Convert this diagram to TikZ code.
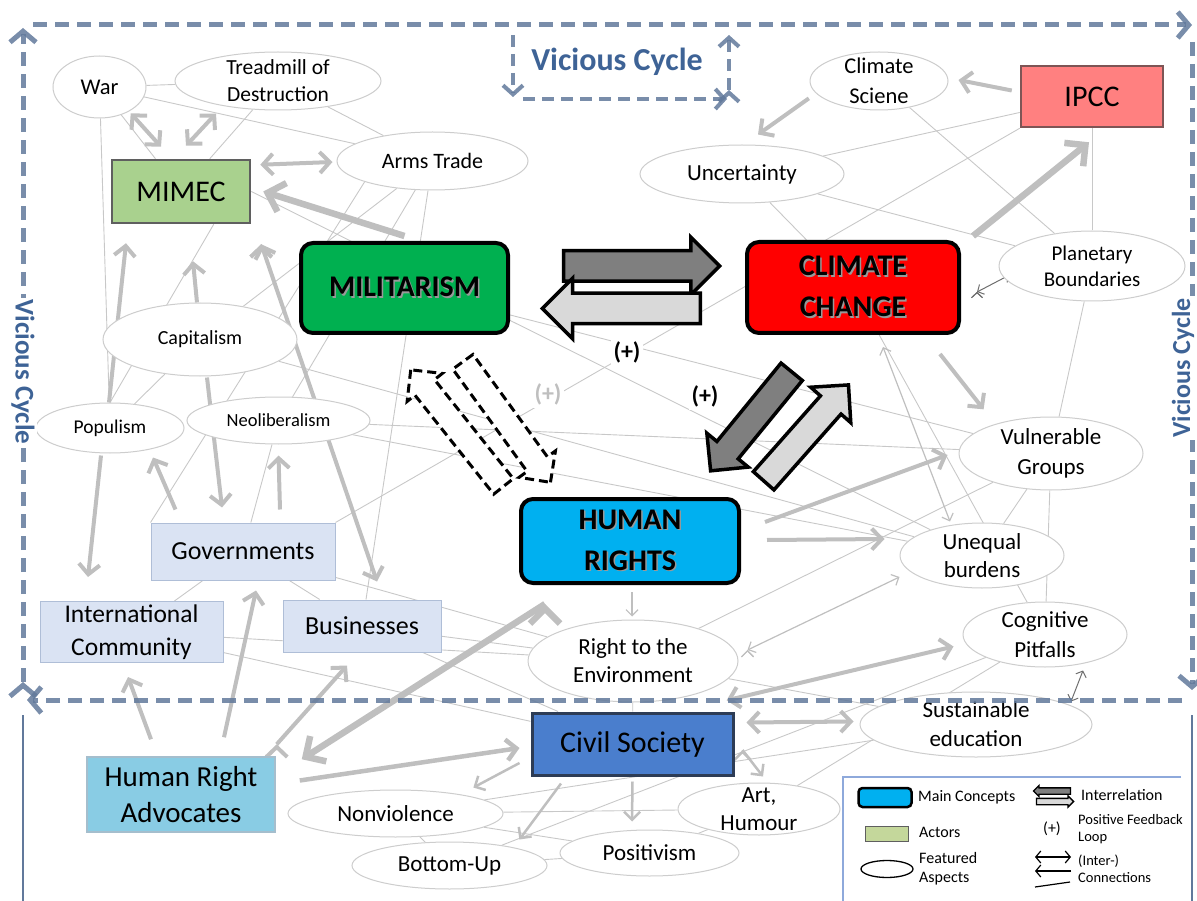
\documentclass[tikz,border=0pt]{standalone}
\usepackage{fontspec}
\setmainfont{Carlito}
\usepackage{tikz}
\usetikzlibrary{shapes,arrows,arrows.meta,calc}
\definecolor{milgreen}{RGB}{0,176,80}
\definecolor{ccred}{RGB}{255,0,0}
\definecolor{hrblue}{RGB}{0,176,240}
\definecolor{mimecgreen}{RGB}{169,209,142}
\definecolor{ipccred}{RGB}{255,128,128}
\definecolor{ipccedge}{RGB}{125,85,85}
\definecolor{actdark}{RGB}{95,95,95}
\definecolor{actblue}{RGB}{218,227,243}
\definecolor{actedge}{RGB}{175,190,215}
\definecolor{advblue}{RGB}{137,204,228}
\definecolor{advedge}{RGB}{165,190,205}
\definecolor{civblue}{RGB}{74,126,205}
\definecolor{civedge}{RGB}{45,60,85}
\definecolor{darkarr}{RGB}{127,127,127}
\definecolor{lightarr}{RGB}{217,217,217}
\definecolor{connline}{RGB}{200,200,200}
\definecolor{arrgrey}{RGB}{191,191,191}
\definecolor{darkline}{RGB}{110,110,110}
\definecolor{elledge}{RGB}{205,205,205}
\definecolor{cyc}{RGB}{97,121,155}
\definecolor{cyctext}{RGB}{62,99,150}
\definecolor{legline}{RGB}{142,169,219}
\definecolor{legactor}{RGB}{196,215,155}
\pgfdeclarelayer{background}
\pgfsetlayers{background,main}
\newcommand{\fsz}[2]{\fontsize{#1}{#2}\selectfont}
\newcommand{\shad}[1]{\makebox[0pt][l]{\hspace{1.5pt}\raisebox{-1.5pt}{\textcolor{black!40}{#1}}}#1}

\begin{document}
\begin{tikzpicture}[x=1pt,y=-1pt,
    mainc/.style={rectangle, rounded corners=12pt, draw=black, line width=4pt, font=\bfseries\fsz{30}{41}, align=center, inner sep=0pt},
    actor/.style={rectangle, draw=actedge, line width=1pt, fill=actblue, font=\fsz{26}{33}, align=center, inner sep=0pt},
    feat/.style={ellipse, draw=elledge, line width=1pt, fill=white, inner sep=0pt},
    ftext/.style={font=\fsz{23}{29}, align=center, inner sep=0pt},
    conn/.style={draw=connline, line width=0.9pt},
    bigarr/.style={draw=arrgrey, line width=6.5pt, -{Straight Barb[length=15pt,width=30pt]}},
    ga/.style={draw=arrgrey, line width=4pt, -{Straight Barb[length=10pt,width=21pt]}},
    gda/.style={draw=arrgrey, line width=4pt, {Straight Barb[length=10pt,width=21pt]}-{Straight Barb[length=10pt,width=21pt]}},
    sa/.style={draw=arrgrey, line width=2.5pt, -{Straight Barb[length=8pt,width=16pt]}},
    ta/.style={draw=arrgrey, line width=1.2pt, {Straight Barb[length=6pt,width=12pt]}-{Straight Barb[length=6pt,width=12pt]}},
    tda/.style={draw=darkline, line width=1pt, {Straight Barb[length=5pt,width=11pt]}-{Straight Barb[length=5pt,width=11pt]}},
    plus/.style={font=\bfseries\fsz{24}{24}, fill=white, inner sep=3pt},
    fatarr/.style={single arrow, draw=black, line width=3.5pt, inner xsep=0pt, single arrow tip angle=90},
    dasharr/.style={single arrow, draw=black, fill=white, line width=3pt, dash pattern=on 9pt off 5pt, inner xsep=0pt, inner ysep=11pt, single arrow tip angle=90, minimum height=149pt, single arrow head extend=10pt},
    vloop/.style={draw=cyc, draw opacity=0.85, line width=5pt, dash pattern=on 14pt off 8pt, -{Straight Barb[length=11pt,width=26pt]}},
    vtext/.style={font=\bfseries\fsz{27}{27}, text=cyctext, fill=white, inner sep=2pt},
    legtext/.style={font=\fsz{16}{19}, align=left, anchor=west, inner sep=0pt},
    legarr/.style={draw=black, line width=1.2pt}]
\useasboundingbox (0,0) rectangle (1197,901);

\node[mainc, fill=milgreen, minimum width=207pt, minimum height=90pt] (mil) at (404.5,288) {\shad{MILITARISM}};
\node[mainc, fill=ccred, minimum width=212pt, minimum height=91pt] (cc) at (853,287.5) {\shad{CLIMATE}\\\shad{CHANGE}};
\node[mainc, fill=hrblue, minimum width=218pt, minimum height=84pt] (hr) at (630,541) {\shad{HUMAN}\\\shad{RIGHTS}};

\node[actor, fill=mimecgreen, draw=actdark, line width=2.5pt, font=\fsz{30}{34}, minimum width=138pt, minimum height=63pt] (mimec) at (181,191.5) {MIMEC};
\node[actor, fill=ipccred, draw=ipccedge, line width=2.5pt, font=\fsz{30}{34}, minimum width=142pt, minimum height=61pt] (ipcc) at (1092,96.5) {IPCC};
\node[actor, minimum width=184pt, minimum height=57pt] (gov) at (243,551.5) {Governments};
\node[actor, font=\fsz{25.5}{33}, minimum width=183pt, minimum height=61pt] (intc) at (131.5,632) {International\\Community};
\node[actor, minimum width=158pt, minimum height=52pt] (bus) at (362,626) {Businesses};
\node[actor, fill=advblue, draw=advedge, line width=1.5pt, font=\fsz{29}{36}, minimum width=188pt, minimum height=75pt] (adv) at (181,794.5) {Human Right\\Advocates};
\node[actor, fill=civblue, draw=civedge, line width=3pt, font=\fsz{30}{34}, minimum width=201pt, minimum height=62pt] (civ) at (632.5,744) {Civil Society};

\node[feat, minimum width=93pt, minimum height=62pt, label={[ftext, font=\fsz{22.5}{27}]center:War}] (war) at (99.5,87) {};
\node[feat, minimum width=206pt, minimum height=58pt, label={[ftext, font=\fsz{21.5}{27}]center:Treadmill of\\Destruction}] (tread) at (278,81) {};
\node[feat, minimum width=191pt, minimum height=58pt, label={[ftext, font=\fsz{22}{27}]center:Arms Trade}] (arms) at (432.5,161) {};
\node[feat, minimum width=138pt, minimum height=58pt, label={[ftext, font=\fsz{22.5}{30}]center:Climate\\Sciene}] (clsci) at (879,81) {};
\node[feat, minimum width=204pt, minimum height=58pt, label={[ftext]center:Uncertainty}] (unc) at (742,174) {};
\node[feat, minimum width=186pt, minimum height=70pt, label={[ftext, font=\fsz{21}{26}]center:Planetary\\Boundaries}] (plan) at (1092,266) {};
\node[feat, minimum width=194pt, minimum height=73pt, label={[ftext, font=\fsz{20}{24}]center:Capitalism}] (cap) at (200,339.5) {};
\node[feat, minimum width=148pt, minimum height=50pt, label={[ftext, font=\fsz{19.5}{24}]center:Populism}] (pop) at (110,428) {};
\node[feat, minimum width=183pt, minimum height=47pt, label={[ftext, font=\fsz{18.5}{24}]center:Neoliberalism}] (neo) at (278.5,420.5) {};
\node[feat, minimum width=184pt, minimum height=73pt, label={[ftext, font=\fsz{23}{30}]center:Vulnerable\\Groups}] (vul) at (1051,453.5) {};
\node[feat, minimum width=164pt, minimum height=65pt, label={[ftext, font=\fsz{23}{28}]center:Unequal\\burdens}] (uneq) at (982,555.5) {};
\node[feat, minimum width=164pt, minimum height=65pt, label={[ftext, font=\fsz{23}{30}]center:Cognitive\\Pitfalls}] (cog) at (1045,634.5) {};
\node[feat, minimum width=210pt, minimum height=82pt, label={[ftext, font=\fsz{23}{28}]center:Right to the\\Environment}] (env) at (633,661) {};
\node[feat, minimum width=232pt, minimum height=65pt, label={[ftext]center:Sustainable\\education}] (sus) at (976,724.5) {};
\node[feat, minimum width=215pt, minimum height=47pt, label={[ftext]center:Nonviolence}] (nonv) at (395.5,813.5) {};
\node[feat, minimum width=195pt, minimum height=47pt, label={[ftext]center:Bottom-Up}] (botup) at (449.5,865.5) {};
\node[feat, minimum width=179pt, minimum height=46pt, label={[ftext]center:Positivism}] (posi) at (649.5,853) {};
\node[feat, minimum width=162pt, minimum height=52pt, label={[ftext, font=\fsz{23}{28}]center:{Art,\\Humour}}] (art) at (759,809) {};

\begin{pgfonlayer}{background}
\path[conn]
  (war) edge (tread) (war) edge (arms) (war) edge (mimec) (war) edge (pop)
  (tread) edge (mimec) (tread) edge (arms)
  (arms) edge (cap) (arms) edge (neo) (arms) edge (bus) (arms.south west) edge (gov.north west)
  (mimec.-45) edge (pop.north) (cap) edge (pop) (gov) edge (neo)
  (mimec.east) edge (uneq) (mil) edge (vul) (cap) edge (uneq)
  (neo) edge (vul) (neo) edge (uneq) (gov.north east) edge (ipcc.south west)
  (gov) edge (intc) (gov) edge (bus) (gov) edge (env)
  (intc) edge (env) (intc) edge (civ) (bus) edge (env) (bus) edge (civ)
  (env) edge (civ) (env) edge (vul) (env) edge (sus)
  (clsci) edge (plan) (unc) edge (ipcc) (unc) edge (plan) (unc) edge (cc) (ipcc) edge (plan)
  (plan) edge (vul) (vul) edge (uneq) (vul) edge (cog) (cc) edge (cog)
  (cog) edge (art) (botup) edge (cog) (nonv) edge (sus) (nonv) edge (art)
  (nonv) edge (posi) (botup) edge (posi) (botup) edge (nonv) (posi) edge (art);
\path[bigarr]
  ($(mil.north)+(0,-5)$) edge ($(mimec.east)+(12,0)$)
  ($(cc.north east)+(12,-4)$) edge ($(ipcc.south)+(-3,14)$)
  ($(hr.south west)+(26,19)$) edge ($(adv.north east)+(26,3)$);
\path[ga]
  ($(adv.east)+(24,-14)$) edge[line width=4.5pt] ($(civ.west)+(-11,4)$)
  ($(ipcc.west)+(-8,-6)$) edge ($(clsci.east)+(10,-1)$)
  ($(clsci.south west)+(-21,-3.5)$) edge ($(unc.north)+(16,-10)$)
  ($(cc.south east)+(-21,19)$) edge ($(vul.north west)+(-2,-18)$)
  ($(hr.east)+(24,-19)$) edge ($(vul.west)+(-11,1.5)$)
  ($(hr.east)+(26,-1)$) edge ($(uneq.west)+(-15,-16.5)$)
  ($(gov.north west)+(25,-13)$) edge ($(pop.south)+(43,4)$)
  ($(cap.south)+(7,1)$) edge ($(gov.north)+(-21,-15)$)
  ($(gov.north)+(37,-13)$) edge ($(neo.south)+(0,11)$)
  ($(pop.north)+(-1,0)$) edge ($(mimec.south)+(-55,19)$)
  ($(cap.north)+(-3,0)$) edge ($(mimec.south)+(12,37)$)
  ($(pop.south)+(-9,2)$) edge ($(intc.north)+(-43.5,-24)$)
  ($(adv.north)+(-30,-17)$) edge ($(intc.south)+(-3.5,14)$)
  ($(adv.north)+(43,-19)$) edge ($(gov.south)+(13,10)$)
  ($(adv.north east)+(1,-12)$) edge ($(bus.south)+(-15,13)$);
\path[gda]
  ($(civ.north east)+(12,11)$) edge ($(sus.west)+(-6,-3)$)
  ($(env.south east)+(19,10)$) edge ($(cog.west)+(-9,12)$)
  ($(mimec.north east)+(9,6)$) edge ($(arms.west)+(-4,1)$)
  ($(war.south east)+(-2,4)$) edge ($(mimec.north)+(-20,-12)$)
  ($(tread.south)+(-62,3)$) edge ($(mimec.north)+(5,-13)$)
  ($(mimec.south east)+(10,20)$) edge ($(bus.north)+(15,-18)$);
\path[sa]
  ($(civ.west)+(-11,19)$) edge ($(nonv.north east)+(1.5,-9)$)
  ($(civ.south)+(-71.5,7)$) edge ($(botup.north east)+(0.6,-9)$)
  ($(civ.south)+(0,5)$) edge ($(posi.north)+(-17.5,-8)$)
  ($(civ.east)+(8,6)$) edge ($(art.north)+(4,-6)$);
\path[ta]
  ($(hr.south)+(2,7)$) edge[-{Straight Barb[length=6pt,width=12pt]}] ($(env.north)+(-1,-3)$)
  ($(cc.south)+(30,12)$) edge ($(uneq.north)+(-32,-1)$)
  ($(env.east)+(9,-11)$) edge ($(uneq.west)+(0,21.5)$);
\path[tda]
  ($(cog.south)+(38,3)$) edge ($(sus.north)+(95,10)$)
  ($(cc.east)+(16,4.5)$) edge ($(plan.west)+(11,9)$);
\end{pgfonlayer}

\node[plus] (p_one) at (627,352) {(+)};
\node[plus] (p_two) at (705,396) {(+)};
\node[plus, text=arrgrey] (p_three) at (548,394) {(+)};

\node[fatarr, fill=darkarr, minimum height=156pt, inner ysep=13.5pt, single arrow head extend=13.5pt] (mc_fwd) at (634,266) {};
\node[fatarr, fill=lightarr, minimum height=158pt, inner ysep=13.5pt, single arrow head extend=15pt, rotate=180] (mc_back) at (629,308.5) {};
\node[fatarr, fill=darkarr, minimum height=128pt, inner ysep=12pt, single arrow head extend=13pt, rotate=230.7] (ch_fwd) at (755.5,416) {};
\node[fatarr, fill=lightarr, minimum height=128pt, inner ysep=12pt, single arrow head extend=13pt, rotate=48.5] (ch_back) at (801.5,438) {};
\node[dasharr, rotate=128.5] (mh_back) at (461,433) {};
\node[dasharr, rotate=-54] (mh_fwd) at (503,417) {};

\coordinate (lg_tr) at (1181,777);
\coordinate (lg_tl) at (843,777);
\coordinate (lg_bl) at (843,901);
\draw[draw=legline, line width=1.2pt] (lg_tr) -- (lg_tl) -- (lg_bl);
\node[mainc, fill=hrblue, line width=2.5pt, rounded corners=4pt, minimum width=53pt, minimum height=19pt] (lg_main) at (885,797.5) {};
\node[legtext] (lg_maint) at (918,797) {Main Concepts};
\node[rectangle, draw=actdark, fill=legactor, line width=1pt, minimum width=43pt, minimum height=15pt, inner sep=0pt] (lg_act) at (886.5,833.5) {};
\node[legtext] (lg_actt) at (919,832) {Actors};
\node[ellipse, draw=black, line width=1.3pt, fill=white, minimum width=52pt, minimum height=17pt, inner sep=0pt] (lg_feat) at (887,869) {};
\node[legtext] (lg_featt) at (919,868.5) {Featured\\Aspects};
\node[fatarr, fill=darkarr, line width=1.3pt, minimum height=37pt, inner ysep=2.5pt, single arrow head extend=2.5pt, rotate=180] (lg_ia) at (1053.5,791) {};
\node[fatarr, fill=lightarr, line width=1.3pt, minimum height=37pt, inner ysep=2.5pt, single arrow head extend=2.5pt] (lg_ib) at (1053.5,801.5) {};
\node[legtext] (lg_it) at (1081,795) {Interrelation};
\node[font=\fsz{16}{16}] (lg_plus) at (1052,829) {(+)};
\node[legtext, font=\fsz{14.5}{17}] (lg_plust) at (1078,829) {Positive Feedback\\Loop};
\coordinate (lg_a1) at (1035,857);
\coordinate (lg_a2) at (1071,857);
\coordinate (lg_b1) at (1071,871);
\coordinate (lg_b2) at (1035,871);
\coordinate (lg_c1) at (1035,887);
\coordinate (lg_c2) at (1070,882);
\draw[legarr, {Straight Barb[length=5pt,width=12pt]}-{Straight Barb[length=5pt,width=12pt]}] (lg_a1) -- (lg_a2);
\draw[legarr, -{Straight Barb[length=5pt,width=12pt]}] (lg_b1) -- (lg_b2);
\draw[legarr] (lg_c1) -- (lg_c2);
\node[legtext, font=\fsz{14.5}{17}] (lg_ct) at (1078,869) {(Inter-)\\Connections};

\coordinate (vl_a) at (33,25);
\coordinate (vl_b) at (1192,25);
\coordinate (vl_c) at (1192,42);
\coordinate (vl_d) at (1192,690);
\coordinate (vl_e) at (1182,700);
\coordinate (vl_f) at (27,700);
\coordinate (vl_g) at (23,682);
\coordinate (vl_h) at (23,28);
\coordinate (vl_i) at (23,715);
\coordinate (vl_j) at (23,901);
\coordinate (vl_k) at (1192,715);
\coordinate (vl_l) at (1192,901);
\path[vloop] (vl_a) edge (vl_b) (vl_c) edge (vl_d) (vl_e) edge (vl_f) (vl_g) edge (vl_h);
\draw[draw=cyc, line width=2.5pt] (vl_i) -- (vl_j) (vl_k) -- (vl_l);
\coordinate (sl_a) at (513,35);
\coordinate (sl_b) at (513,97);
\coordinate (sl_c) at (523,99);
\coordinate (sl_d) at (727,99);
\coordinate (sl_e) at (729,90);
\coordinate (sl_f) at (729,35);
\path[vloop, line width=4pt, dash pattern=on 12pt off 7pt, -{Straight Barb[length=9pt,width=20pt]}]
  (sl_a) edge (sl_b) (sl_c) edge (sl_d) (sl_e) edge (sl_f);
\node[vtext, font=\bfseries\fsz{32}{32}, fill=none] (vc_top) at (617,62) {Vicious Cycle};
\node[vtext, rotate=-90] (vc_left) at (23,372) {Vicious Cycle};
\node[vtext, font=\bfseries\fsz{26}{26}, rotate=90] (vc_right) at (1183,368) {Vicious Cycle};
\end{tikzpicture}
\end{document}
